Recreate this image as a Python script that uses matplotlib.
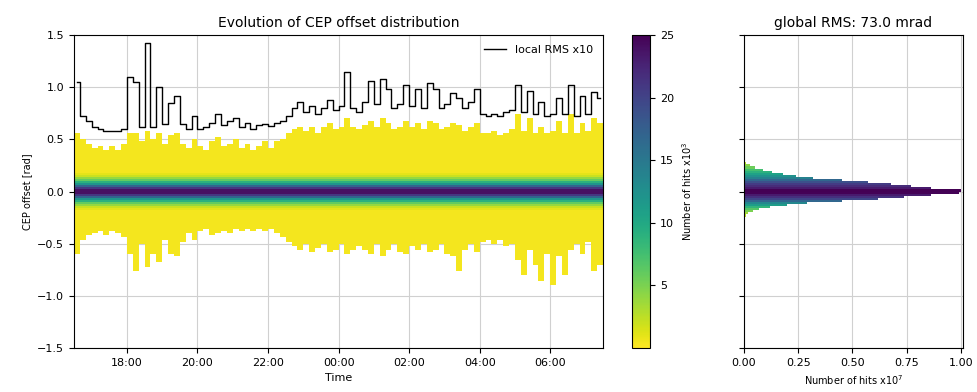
import numpy as np
import matplotlib
matplotlib.use("Agg")
import matplotlib.pyplot as plt
import matplotlib.dates as mdates
from matplotlib.colors import PowerNorm

# time bins: 10 min, 16:30 -> 07:30
t_start = np.datetime64("2021-06-01T16:30")
n_bins = 90

# local RMS x10 per 10-min bin [rad]
rms10 = [1.05, 0.72, 0.68, 0.62, 0.60, 0.58, 0.58, 0.58, 0.60, 1.10,
         1.05, 0.62, 1.42, 0.62, 1.00, 0.65, 0.85, 0.92, 0.65, 0.60,
         0.72, 0.60, 0.62, 0.66, 0.74, 0.64, 0.68, 0.70, 0.62, 0.66,
         0.60, 0.64, 0.65, 0.63, 0.66, 0.68, 0.72, 0.80, 0.86, 0.76,
         0.82, 0.74, 0.80, 0.88, 0.78, 0.82, 1.15, 0.80, 0.76, 0.86,
         1.06, 0.84, 1.08, 0.98, 0.80, 0.84, 1.02, 0.82, 0.98, 0.80,
         1.04, 0.98, 0.80, 0.84, 0.94, 0.90, 0.80, 0.86, 0.98, 0.74,
         0.72, 0.74, 0.72, 0.76, 0.78, 1.02, 0.76, 0.96, 0.74, 0.86,
         0.72, 0.74, 0.90, 0.74, 1.02, 0.72, 0.92, 0.74, 0.95, 0.90]

# upper / lower edge of the populated region per time bin [rad]
upper = [0.56, 0.50, 0.46, 0.42, 0.44, 0.40, 0.43, 0.41, 0.46,
         0.57, 0.55, 0.47, 0.58, 0.50, 0.56, 0.45, 0.54, 0.56,
         0.46, 0.42, 0.50, 0.44, 0.40, 0.47, 0.52, 0.43, 0.45, 0.50, 0.42, 0.46,
         0.40, 0.44, 0.47, 0.42, 0.48, 0.50, 0.55,
         0.60, 0.62, 0.58, 0.63, 0.57, 0.62, 0.66, 0.60, 0.62, 0.70, 0.62, 0.60,
         0.64, 0.68, 0.62, 0.70, 0.66, 0.60, 0.63, 0.68, 0.62, 0.66, 0.60, 0.68,
         0.66, 0.60, 0.62, 0.66, 0.64, 0.58, 0.62, 0.67,
         0.56, 0.55, 0.58, 0.54, 0.57, 0.60, 0.75, 0.58, 0.70, 0.56, 0.62, 0.55,
         0.58, 0.68, 0.57, 0.75, 0.55, 0.66, 0.58, 0.70, 0.66]
lower = [-0.60, -0.45, -0.42, -0.40, -0.38, -0.42, -0.37, -0.40, -0.44,
         -0.60, -0.75, -0.50, -0.72, -0.60, -0.68, -0.45, -0.60, -0.62,
         -0.48, -0.40, -0.45, -0.38, -0.36, -0.42, -0.40, -0.37, -0.40, -0.35, -0.38, -0.36,
         -0.38, -0.35, -0.37, -0.36, -0.40, -0.44, -0.48,
         -0.52, -0.56, -0.50, -0.58, -0.54, -0.50, -0.57, -0.55, -0.50, -0.60, -0.55, -0.52,
         -0.56, -0.60, -0.50, -0.62, -0.55, -0.50, -0.58, -0.60, -0.52, -0.55, -0.50, -0.58,
         -0.55, -0.50, -0.60, -0.62, -0.75, -0.55, -0.50, -0.58,
         -0.48, -0.45, -0.50, -0.46, -0.52, -0.50, -0.65, -0.80, -0.55, -0.70, -0.85, -0.60,
         -0.90, -0.62, -0.80, -0.55, -0.50, -0.60, -0.48, -0.75, -0.70]

# hits per cell (x10^3) in the core, by distance from 0 (0.02 rad steps)
core = [24, 21, 17, 12, 9, 6, 4, 2, 1]
tail = 0.4

# global histogram (x10^7), bin centres from +0.27 down to -0.23
hist_y = [0.27, 0.25, 0.23, 0.21, 0.19, 0.17, 0.15, 0.13, 0.11, 0.09, 0.07, 0.05, 0.03, 0.01,
          -0.01, -0.03, -0.05, -0.07, -0.09, -0.11, -0.13, -0.15, -0.17, -0.19, -0.21, -0.23]
hist_n = [0.01, 0.03, 0.05, 0.09, 0.13, 0.18, 0.24, 0.32, 0.45, 0.57, 0.68, 0.77, 0.86, 1.00,
          0.99, 0.86, 0.74, 0.62, 0.45, 0.29, 0.20, 0.12, 0.07, 0.04, 0.02, 0.01]

t_edges = t_start + np.arange(n_bins + 1) * np.timedelta64(10, "m")
t_mid = t_start + (np.arange(n_bins) * 10 + 5) * np.timedelta64(1, "m")
y_edges = np.linspace(-1.5, 1.5, 151)
y_mid = 0.5 * (y_edges[:-1] + y_edges[1:])

C = np.full((len(y_mid), n_bins), np.nan)
for i in range(n_bins):
    for j, c in enumerate(y_mid):
        k = int(round((abs(c) - 0.01) / 0.02))
        if k < len(core):
            C[j, i] = core[k]
        elif lower[i] <= c <= upper[i]:
            C[j, i] = tail
C = np.ma.masked_invalid(C)

fig = plt.figure(figsize=(9.78, 3.92), dpi=100)
ax = fig.add_axes([0.0757, 0.1122, 0.541, 0.7985])
cax = fig.add_axes([0.646, 0.1122, 0.019, 0.7985])
ax2 = fig.add_axes([0.7607, 0.1122, 0.224, 0.7985])

mesh = ax.pcolormesh(t_edges, y_edges, C, cmap="viridis_r", vmin=0, vmax=25)
ax.plot(t_mid, rms10, color="k", lw=1, drawstyle="steps-mid", label="local RMS x10")
ax.set_ylim(-1.5, 1.5)
ax.set_xlim(t_edges[0], t_edges[-1])
ax.xaxis.set_major_locator(mdates.HourLocator(byhour=range(0, 24, 2)))
ax.xaxis.set_major_formatter(mdates.DateFormatter("%H:%M"))
ax.set_yticks([-1.5, -1.0, -0.5, 0.0, 0.5, 1.0, 1.5])
ax.grid(True, color="#d0d0d0", lw=0.8)
ax.set_axisbelow(True)
ax.tick_params(labelsize=8)
ax.set_xlabel("Time", fontsize=8)
ax.set_ylabel("CEP offset [rad]", fontsize=7)
ax.set_title("Evolution of CEP offset distribution", fontsize=10)
ax.legend(loc="upper right", frameon=False, fontsize=8)

cb = fig.colorbar(mesh, cax=cax)
cb.set_ticks([5, 10, 15, 20, 25])
cb.ax.tick_params(labelsize=8)
cb.set_label("Number of hits x10$^3$", fontsize=7)

norm = PowerNorm(0.5, vmin=0, vmax=1.0)
ax2.barh(hist_y, hist_n, height=0.02, color=plt.cm.viridis_r(norm(np.array(hist_n))))
ax2.set_ylim(-1.5, 1.5)
ax2.set_xlim(0, 1.01)
ax2.set_yticks([-1.5, -1.0, -0.5, 0.0, 0.5, 1.0, 1.5])
ax2.set_yticklabels([])
ax2.set_xticks([0, 0.25, 0.5, 0.75, 1.0])
ax2.set_xticklabels(["0.00", "0.25", "0.50", "0.75", "1.00"])
ax2.grid(True, color="#d0d0d0", lw=0.8)
ax2.set_axisbelow(True)
ax2.tick_params(labelsize=8)
ax2.set_xlabel("Number of hits x10$^7$", fontsize=7)
ax2.set_title("global RMS: 73.0 mrad", fontsize=10)

fig.savefig("out.png", dpi=100)
